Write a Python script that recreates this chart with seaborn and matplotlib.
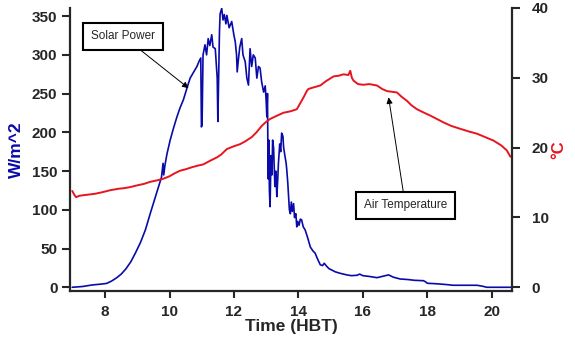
import matplotlib
matplotlib.use("Agg")
import matplotlib.pyplot as plt
import seaborn as sns
import pandas as pd

# ---- data ----
solar_time = [6.98, 7.3, 7.6, 7.85, 8.05, 8.2, 8.35, 8.5, 8.65, 8.8, 8.95, 9.1, 9.25, 9.4, 9.55,
              9.66, 9.75, 9.80, 9.82, 9.86, 9.92, 10.02, 10.12, 10.23, 10.33, 10.43, 10.54, 10.64,
              10.75, 10.85, 10.92, 10.97, 10.99, 11.01, 11.04, 11.1, 11.15, 11.2, 11.25, 11.31,
              11.35, 11.42, 11.45, 11.48, 11.50, 11.52, 11.55, 11.57, 11.62, 11.66, 11.7, 11.75,
              11.78, 11.85, 11.93, 12.0, 12.04, 12.08, 12.1, 12.14, 12.18, 12.24, 12.28, 12.35,
              12.40, 12.45, 12.50, 12.55, 12.6, 12.66, 12.71, 12.76, 12.81, 12.86, 12.92, 12.97,
              13.0, 13.02, 13.04, 13.06, 13.08, 13.10, 13.12, 13.15, 13.18, 13.2, 13.23, 13.27,
              13.30, 13.33, 13.36, 13.38, 13.42, 13.45, 13.48, 13.52, 13.54, 13.58, 13.62, 13.64,
              13.67, 13.69, 13.72, 13.75, 13.78, 13.81, 13.85, 13.88, 13.92, 13.95, 13.98, 14.02,
              14.06, 14.1, 14.15, 14.21, 14.28, 14.37, 14.45, 14.52, 14.6, 14.68, 14.75, 14.8,
              14.88, 14.95, 15.05, 15.14, 15.3, 15.5, 15.65, 15.82, 15.9, 16.0, 16.2, 16.44, 16.6,
              16.8, 16.95, 17.16, 17.4, 17.6, 17.88, 17.95, 18.0, 18.3, 18.6, 18.8, 19.2, 19.54,
              19.7, 19.85, 20.2, 20.6]
solar_wm2 = [0, 1, 3, 4, 5, 8, 12, 17, 24, 33, 45, 58, 74, 95, 115,
             130, 142, 160, 145, 158, 172, 190, 205, 220, 232, 242, 257, 270,
             278, 285, 292, 296, 207, 210, 300, 313, 300, 321, 312, 326,
             310, 308, 290, 270, 214, 260, 330, 353, 360, 345, 352, 340,
             351, 335, 343, 325, 317, 300, 278, 295, 310, 321, 300, 291,
             270, 261, 308, 285, 300, 296, 270, 285, 283, 265, 252, 260,
             240, 220, 250, 140, 190, 125, 104, 170, 145, 190, 180, 130,
             150, 117, 140, 160, 185, 175, 199, 195, 181, 170, 160, 151,
             135, 121, 100, 95, 110, 98, 108, 90, 95, 78, 85, 80,
             88, 87, 78, 74, 65, 52, 47, 44, 36, 29, 28, 31,
             27, 24, 22, 20, 18, 16, 15, 15.5, 17, 15, 14, 12.4, 14,
             16, 13, 10.7, 10, 9, 8.5, 7, 5.2, 4.5, 3.5, 2.6, 2.6, 2.6,
             1.5, 0, 0, 0]

temp_time = [6.98, 7.05, 7.1, 7.2, 7.35, 7.53, 7.7, 7.9, 8.16, 8.4, 8.6, 8.78, 9.0, 9.2, 9.4,
             9.6, 9.81, 10.0, 10.15, 10.33, 10.5, 10.7, 10.9, 11.05, 11.25, 11.47, 11.6, 11.78,
             12.0, 12.19, 12.35, 12.55, 12.7, 12.87, 13.0, 13.12, 13.3, 13.54, 13.75, 13.95,
             14.05, 14.16, 14.26, 14.31, 14.45, 14.68, 14.85, 15.09, 15.25, 15.4, 15.55, 15.61,
             15.66, 15.71, 15.85, 16.02, 16.2, 16.44, 16.6, 16.75, 16.9, 17.06, 17.2, 17.37,
             17.5, 17.68, 17.9, 18.09, 18.3, 18.51, 18.75, 19.02, 19.3, 19.54, 19.8, 20.06,
             20.3, 20.47, 20.58]
temp_c = [13.8, 13.2, 12.9, 13.1, 13.2, 13.3, 13.4, 13.6, 13.9, 14.1, 14.2, 14.35, 14.6, 14.8, 15.1,
          15.3, 15.55, 15.9, 16.3, 16.7, 16.9, 17.2, 17.45, 17.6, 18.1, 18.6, 19.0, 19.8,
          20.2, 20.5, 20.9, 21.5, 22.2, 23.15, 23.7, 24.1, 24.5, 25.0, 25.2, 25.5,
          26.3, 27.2, 28.1, 28.4, 28.6, 28.9, 29.5, 30.2, 30.3, 30.5, 30.4, 31.0,
          30.0, 29.6, 29.1, 29.0, 29.1, 28.9, 28.4, 28.1, 28.0, 27.9, 27.3, 26.7,
          26.1, 25.5, 25.0, 24.6, 24.1, 23.6, 23.1, 22.7, 22.3, 22.0, 21.5, 21.0,
          20.3, 19.6, 18.7]

x_ticks = [8, 10, 12, 14, 16, 18, 20]
left_ticks = [0, 50, 100, 150, 200, 250, 300, 350]
right_ticks = [0, 10, 20, 30, 40]

# ---- styling ----
sns.set_style("ticks")
plt.rcParams['font.family'] = ['Liberation Sans', 'DejaVu Sans']
plt.rcParams['font.weight'] = 'bold'

BLUE = "#0a0aaa"
RED = "#e8141e"

solar_df = pd.DataFrame({"time": solar_time, "power": solar_wm2})
temp_df = pd.DataFrame({"time": temp_time, "temp": temp_c})

fig = plt.figure(figsize=(5.75, 3.43), dpi=100)
ax = fig.add_axes([0.1217, 0.1525, 0.7693, 0.8242])
ax2 = ax.twinx()

sns.lineplot(data=solar_df, x="time", y="power", ax=ax, color=BLUE, lw=1.2,
             sort=False, estimator=None)
sns.lineplot(data=temp_df, x="time", y="temp", ax=ax2, color=RED, lw=1.4,
             sort=False, estimator=None)

ax.set_xlim(6.91, 20.64)
ax.set_ylim(-4.4, 360.5)
ax2.set_ylim(-0.49, 39.85)

ax.set_xticks(x_ticks)
ax.set_yticks(left_ticks)
ax2.set_yticks(right_ticks)

for a in (ax, ax2):
    a.spines['top'].set_visible(False)
    for s in a.spines.values():
        s.set_linewidth(1.6)
ax.spines['right'].set_visible(False)
ax2.spines['left'].set_visible(False)
ax2.spines['bottom'].set_visible(False)

ax.tick_params(axis='y', direction='out', length=6, width=1.5, labelsize=11, pad=3)
ax.tick_params(axis='x', direction='out', length=5, width=1.5, labelsize=11, pad=5)
ax2.tick_params(axis='y', direction='out', length=6, width=1.5, labelsize=11, pad=8)
for lab in ax.get_xticklabels() + ax.get_yticklabels() + ax2.get_yticklabels():
    lab.set_fontweight('bold')

ax.set_xlabel("Time (HBT)", fontsize=12.5, fontweight='bold', labelpad=0)
ax.set_ylabel("W/m^2", fontsize=12.5, fontweight='bold', color=BLUE, labelpad=6)
ax2.set_ylabel("°C", fontsize=12, fontweight='bold', color=RED, labelpad=2)

box = dict(boxstyle="square,pad=0.65", fc="white", ec="black", lw=1.5)
arrow = dict(arrowstyle="-|>", color="black", lw=0.7, mutation_scale=9,
             shrinkA=0, shrinkB=0)
ax.annotate("Solar Power", xy=(10.59, 257), xytext=(8.56, 324),
            ha='center', va='center', fontsize=8.5, fontweight='normal',
            bbox=box, arrowprops=arrow)
ax2.annotate("Air Temperature", xy=(16.8, 27.2), xytext=(17.32, 11.74),
             ha='center', va='center', fontsize=8.5, fontweight='normal',
             bbox=box, arrowprops=arrow)

fig.savefig("out.png", dpi=100)
